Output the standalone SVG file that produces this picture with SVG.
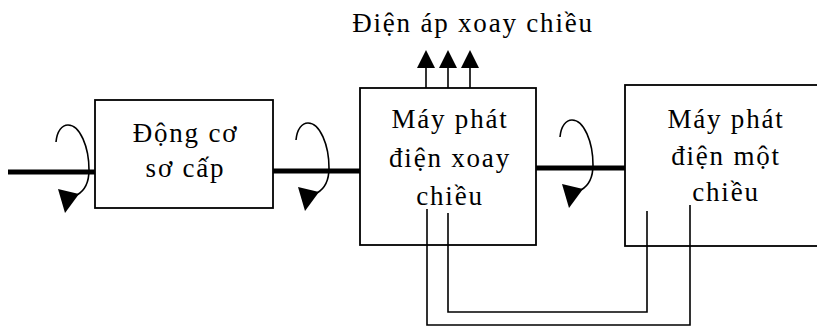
<svg xmlns="http://www.w3.org/2000/svg" width="817" height="328" viewBox="0 0 817 328">
<style>
.box{fill:#fff;stroke:#000;stroke-width:1.8}
.t{font-family:"Liberation Serif","Times New Roman",serif;font-size:27px;letter-spacing:1.8px;text-anchor:middle;fill:#000}
.shaft{stroke:#000;stroke-width:5;fill:none}
.wire{stroke:#000;stroke-width:1.6;fill:none}
.rot{stroke:#000;stroke-width:1.6;fill:none}
</style>
<defs>
<g id="rotation">
<path class="rot" d="M0,17 C1,6 6,0 12,0 C24,0 33,22 33,45 C33,58 28,66 21,70"/>
<polygon points="2,64 23,69 9,88" fill="#000"/>
</g>
</defs>
<rect width="817" height="328" fill="#fff"/>

<g id="connectors">
<line class="shaft" x1="8" y1="172" x2="96" y2="172"/>
<line class="shaft" x1="273" y1="171" x2="361" y2="171"/>
<line class="shaft" x1="536" y1="168" x2="625" y2="168"/>
<use href="#rotation" x="56" y="125"/>
<use href="#rotation" x="296" y="123"/>
<use href="#rotation" x="560" y="120"/>
<polyline class="wire" points="427,209 427,325 690,325 690,205"/>
<polyline class="wire" points="448,213 448,312 647,312 647,211"/>
<g id="ac-output">
<line class="wire" x1="426" y1="88" x2="426" y2="66"/>
<line class="wire" x1="448" y1="88" x2="448" y2="66"/>
<line class="wire" x1="470" y1="88" x2="470" y2="66"/>
<polygon points="417,68 435,68 426,50" fill="#000"/>
<polygon points="439,68 457,68 448,50" fill="#000"/>
<polygon points="461,68 479,68 470,50" fill="#000"/>
</g>
</g>

<g id="label-ac">
<text class="t" x="473" y="32">Điện áp xoay chiều</text>
</g>

<g id="node-engine">
<rect class="box" x="95" y="100" width="178" height="108"/>
<text class="t" x="185.5" y="142">Động cơ</text>
<text class="t" x="185.5" y="177">sơ cấp</text>
</g>

<g id="node-ac-generator">
<rect class="box" x="360" y="88" width="176" height="157"/>
<text class="t" x="450" y="128">Máy phát</text>
<text class="t" x="450" y="167">điện xoay</text>
<text class="t" x="450" y="205">chiều</text>
</g>

<g id="node-dc-generator">
<rect class="box" x="625" y="85" width="210" height="161"/>
<text class="t" x="726" y="128">Máy phát</text>
<text class="t" x="726" y="165">điện một</text>
<text class="t" x="726" y="201">chiều</text>
</g>
<polyline class="wire" points="427,245 427,209"/>
<polyline class="wire" points="448,245 448,213"/>
<polyline class="wire" points="690,246 690,205"/>
<polyline class="wire" points="647,246 647,211"/>
</svg>
